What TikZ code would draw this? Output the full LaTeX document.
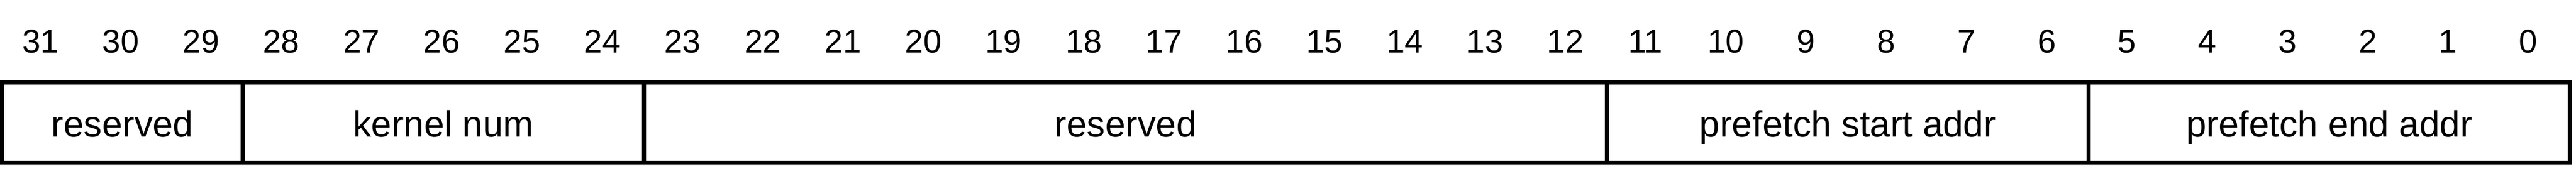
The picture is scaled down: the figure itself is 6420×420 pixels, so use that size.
\documentclass[tikz,border=0pt]{standalone}
\usepackage{fontspec}
\setmainfont{Liberation Sans}
\begin{document}
\begin{tikzpicture}[x=0.25pt,y=-0.25pt,
  field/.style={draw=black, line width=2.5pt, inner sep=0pt, outer sep=0pt, minimum height=50pt},
  fieldlabel/.style={anchor=base, inner sep=0pt, font=\fontsize{22.75}{27}\selectfont},
  bitnum/.style={anchor=base, inner sep=0pt, font=\fontsize{20.5}{24}\selectfont}]
\useasboundingbox[fill=white] (0,0) rectangle (6420,420);
% fields (boxes)
\node[field, minimum width=150pt]  (f1) at (305,305)  {};
\node[field, minimum width=250pt]  (f2) at (1105,305) {};
\node[field, minimum width=600pt]  (f3) at (2805,305) {};
\node[field, minimum width=300pt]  (f4) at (4605,305) {};
\node[field, minimum width=300pt]  (f5) at (5805,305) {};
% field labels
\node[fieldlabel] (l1) at (305,341)  {reserved};
\node[fieldlabel] (l2) at (1105,341) {kernel num};
\node[fieldlabel] (l3) at (2805,341) {reserved};
\node[fieldlabel] (l4) at (4605,341) {prefetch start addr};
\node[fieldlabel] (l5) at (5805,341) {prefetch end addr};
% bit numbers
\foreach \k in {0,...,31}{
  \pgfmathtruncatemacro{\b}{31-\k}
  \node[bitnum] (b\b) at ({101+200*\k},131) {\b};
}
\end{tikzpicture}
\end{document}
